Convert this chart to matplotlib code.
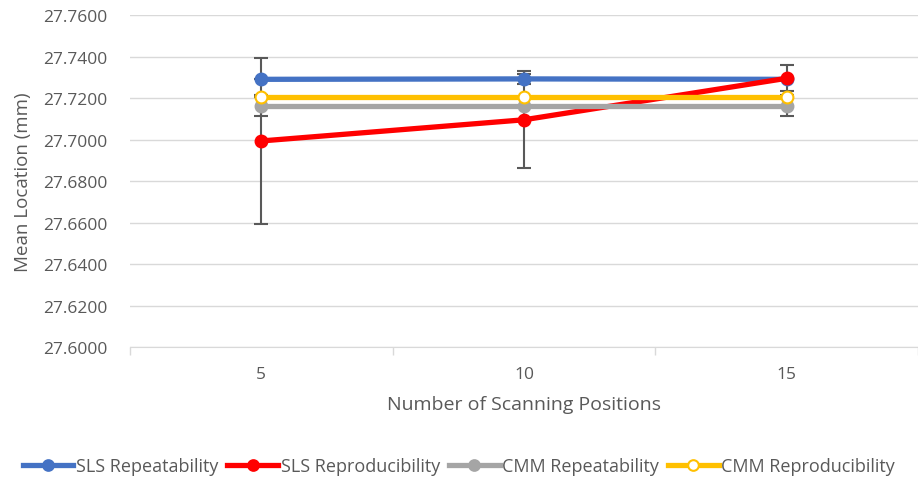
import matplotlib
matplotlib.use("Agg")
import matplotlib.pyplot as plt
import numpy as np

plt.rcParams['font.family'] = ['Open Sans', 'DejaVu Sans']

positions = ["5", "10", "15"]
sls_repeat = [27.7290, 27.7292, 27.7290]
sls_repeat_err = [0.0, 0.0025, 0.0]
sls_repro = [27.6993, 27.7095, 27.7295]
sls_repro_err = [0.0400, 0.0233, 0.0062]
cmm_repeat = [27.7163, 27.7163, 27.7163]
cmm_repeat_err = [0.0050, 0.0, 0.0050]
cmm_repro = [27.7207, 27.7207, 27.7207]
cmm_repro_err = [0.0, 0.0, 0.0]

text_col = "#595959"
fig = plt.figure(figsize=(9.18, 4.85), dpi=100)
ax = fig.add_axes([130/918, 1-348/485, 788/918, 332/485])

x = np.arange(len(positions))
series = [
    ("SLS Repeatability", sls_repeat, sls_repeat_err, "#4472C4", "#4472C4"),
    ("SLS Reproducibility", sls_repro, sls_repro_err, "#FF0000", "#FF0000"),
    ("CMM Repeatability", cmm_repeat, cmm_repeat_err, "#A5A5A5", "#A5A5A5"),
    ("CMM Reproducibility", cmm_repro, cmm_repro_err, "#FFC000", "white"),
]
handles = []
for i, (name, vals, err, col, face) in enumerate(series):
    z = 3 + i
    ax.errorbar(x, vals, yerr=err, fmt="none", ecolor="#595959", elinewidth=1.5,
                capsize=5, capthick=1.5, zorder=2)
    h, = ax.plot(x, vals, color=col, lw=3.8, marker="o", markersize=8.5,
                 markerfacecolor=face, markeredgecolor=col, markeredgewidth=1.5,
                 label=name, zorder=z)
    handles.append(h)

ax.set_xlim(-0.5, 2.5)
ax.set_ylim(27.60, 27.76)
yt = np.arange(27.60, 27.7601, 0.02)
ax.set_yticks(yt)
ax.set_yticklabels([f"{v:.4f}" for v in yt])
ax.set_xticks(x)
ax.set_xticklabels(positions)
ax.set_xticks([-0.5, 0.5, 1.5, 2.5], minor=True)
ax.tick_params(axis="x", which="major", length=0, pad=14, labelsize=12.5, labelcolor=text_col)
ax.tick_params(axis="x", which="minor", length=6, color="#d9d9d9", width=1)
ax.tick_params(axis="y", length=0, pad=16, labelsize=12.5, labelcolor=text_col)
ax.grid(axis="y", color="#d9d9d9", lw=1)
ax.set_axisbelow(True)
for s in ["top", "right", "left"]:
    ax.spines[s].set_visible(False)
ax.spines["bottom"].set_color("#d9d9d9")

ax.set_ylabel("Mean Location (mm)", fontsize=13.5, color=text_col, labelpad=8)
ax.set_xlabel("Number of Scanning Positions", fontsize=14, color=text_col, labelpad=9)

fig.legend(handles=handles, loc="center", bbox_to_anchor=(0.5, 1-467/485), ncol=4,
           frameon=False, fontsize=13, labelcolor=text_col, handlelength=2.8,
           handletextpad=0.15, columnspacing=0.5, markerscale=0.9)

fig.savefig("out.png", dpi=100)
